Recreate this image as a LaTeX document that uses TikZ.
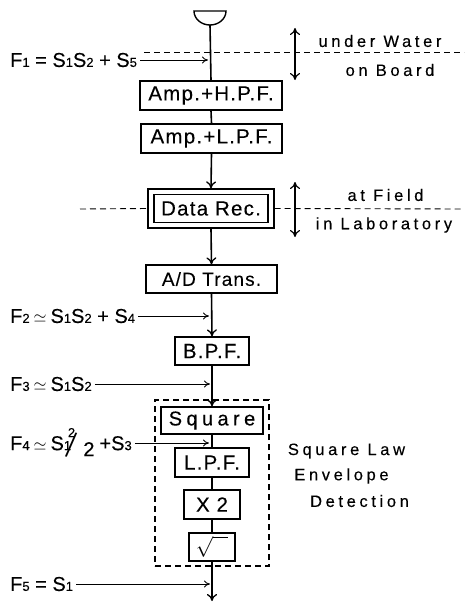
\documentclass[tikz,border=0pt]{standalone}
\usepackage{fontspec}
\setmainfont[FakeBold=0.25]{Liberation Sans}
\newfontfamily\plainfont{Liberation Sans}
\newfontfamily\spacedfont[LetterSpace=22,FakeBold=0.25]{Liberation Sans}
\newfontfamily\blockfont[LetterSpace=6,FakeBold=0.25]{Liberation Sans}
\newfontfamily\widefont[LetterSpace=22,FakeBold=0.25]{Liberation Sans}
\usetikzlibrary{arrows.meta}
\newcommand{\sm}[1]{{\fontsize{13}{13}\selectfont #1}}
\newcommand{\rootsign}{\ensuremath{\sqrt{\phantom{x\,}}}}
\newcommand{\nearly}{\hspace{4pt}\scalebox{.8}{$\simeq$}\hspace{4pt}}
\tikzset{
 x=1pt,y=-1pt,
 blk/.style={draw,line width=1.3pt,inner sep=0pt,font=\blockfont\fontsize{20.5}{21}\selectfont},
 eqn/.style={anchor=west,inner sep=0pt,font=\fontsize{20}{20}\selectfont},
 side/.style={inner sep=0pt,font=\spacedfont\fontsize{16.5}{17}\selectfont},
 wire/.style={line width=1.6pt},
 flow/.style={line width=1.6pt,-{To[length=7pt,width=10pt,line width=1.3pt]}},
 tap/.style={line width=0.9pt,-{To[length=6pt,width=7pt,line width=.9pt]}},
 updown/.style={line width=1.2pt,{To[length=7pt,width=10pt]}-{To[length=7pt,width=10pt]}},
 cut/.style={line width=0.9pt,dash pattern=on 6pt off 4pt},
}
\begin{document}
\begin{tikzpicture}
\useasboundingbox[fill=white] (0,0) rectangle (464,602);
% hydrophone
\draw[line width=1.4pt] (194,11) -- (226,11) arc[start angle=0,end angle=-180,x radius=16pt,y radius=14pt] -- cycle;
\coordinate (hyd) at (210,25);
% boxes
\node[blk,minimum width=142pt,minimum height=29pt] (hpf) at (211,95.5) {Amp.+H.P.F.};
\node[blk,minimum width=141pt,minimum height=29pt] (lpf) at (211.5,138.5) {Amp.+L.P.F.};
\node[draw,line width=1.3pt,inner sep=0pt,minimum width=126pt,minimum height=39pt] (recout) at (211,208.5) {};
\node[blk,minimum width=114pt,minimum height=28pt] (rec) at (211,208.5) {Data Rec.};
\node[blk,minimum width=131pt,minimum height=28pt,font=\blockfont\fontsize{19}{20}\selectfont] (ad) at (211.5,279) {A/D Trans.};
\node[blk,minimum width=74pt,minimum height=28pt] (bpf) at (212,351) {B.P.F.};
\node[blk,minimum width=102pt,minimum height=27pt,font=\widefont\fontsize{20}{20}\selectfont] (sq) at (212,420.5) {Square};
\node[blk,minimum width=74pt,minimum height=29pt] (lpf2) at (212,462.5) {L.P.F.};
\node[blk,minimum width=56pt,minimum height=29pt] (x2) at (212,504.5) {X\,\,2};
\node[blk,minimum width=46pt,minimum height=28pt] (rt) at (212,547) {\rootsign};
\node[draw,cut,line width=1.1pt,inner sep=0pt,minimum width=114pt,minimum height=166pt] (det) at (212,483) {};
% main chain
\draw[wire] (hyd) -- (hpf.north);
\draw[wire] (hpf.south) -- (lpf.north);
\draw[flow] (lpf.south) -- (recout.north);
\draw[flow] (recout.south) -- (ad.north);
\draw[flow] (ad.south) -- (bpf.north);
\draw[flow] (bpf.south) -- (sq.north);
\draw[wire] (sq.south) -- (lpf2.north);
\draw[wire] (lpf2.south) -- (x2.north);
\draw[wire] (x2.south) -- (rt.north);
\coordinate (out) at (212,601);
\draw[flow] (rt.south) -- (out);
% equations
\node[eqn] (f1) at (10,60) {F\sm{1} = S\sm{1}S\sm{2} + S\sm{5}};
\node[eqn] (f2) at (10,316) {F\sm{2}\nearly S\sm{1}S\sm{2} + S\sm{4}};
\node[eqn] (f3) at (10,384) {F\sm{3}\nearly S\sm{1}S\sm{2}};
\node[eqn] (f4) at (10,443) {F\sm{4}\nearly S\rlap{\hspace{4pt}\raisebox{13pt}{\sm{2}}}\sm{1}\hspace{-6pt}\raisebox{-6pt}{\plainfont\fontsize{24}{24}\selectfont\rotatebox{-13}{\scalebox{1}[1.45]{/}}}\hspace{6pt}\raisebox{-6pt}{2}\hspace{5pt}+S\sm{3}};
\node[eqn] (f5) at (10,584) {F\sm{5} = S\sm{1}};
\coordinate (t1) at (208,60);
\coordinate (t2) at (209,316);
\coordinate (t3) at (210,384);
\coordinate (t4) at (209,443);
\coordinate (t5) at (210,584);
\draw[tap] (f1.east)++(3,0) -- (t1);
\draw[tap] (f2.east)++(3,0) -- (t2);
\draw[tap] (f3.east)++(3,0) -- (t3);
\draw[tap] (f4.east)++(3,0) -- (t4);
\draw[tap] (f5.east)++(3,0) -- (t5);
% boundaries
\coordinate (c1a) at (144,52); \coordinate (c1b) at (464,52);
\draw[cut] (c1a) -- (c1b);
\coordinate (c2a) at (80,209); \coordinate (c2b) at (464,209);
\draw[cut] (c2a) -- (recout.west);
\draw[cut] (recout.east) -- (c2b);
\coordinate (u1) at (295,28); \coordinate (u2) at (295,80);
\draw[updown] (u1) -- (u2);
\coordinate (u3) at (295,182); \coordinate (u4) at (295,237);
\draw[updown] (u3) -- (u4);
\node[side] (uw) at (380,41) {under Water};
\node[side] (ob) at (390,70) {on Board};
\node[side] (af) at (385.5,195) {at Field};
\node[side] (il) at (384,225) {in Laboratory};
\node[side] (sl) at (346.5,451) {Square Law};
\node[side] (en) at (341.5,476) {Envelope};
\node[side] (de) at (359.5,501) {Detection};
\end{tikzpicture}
\end{document}
